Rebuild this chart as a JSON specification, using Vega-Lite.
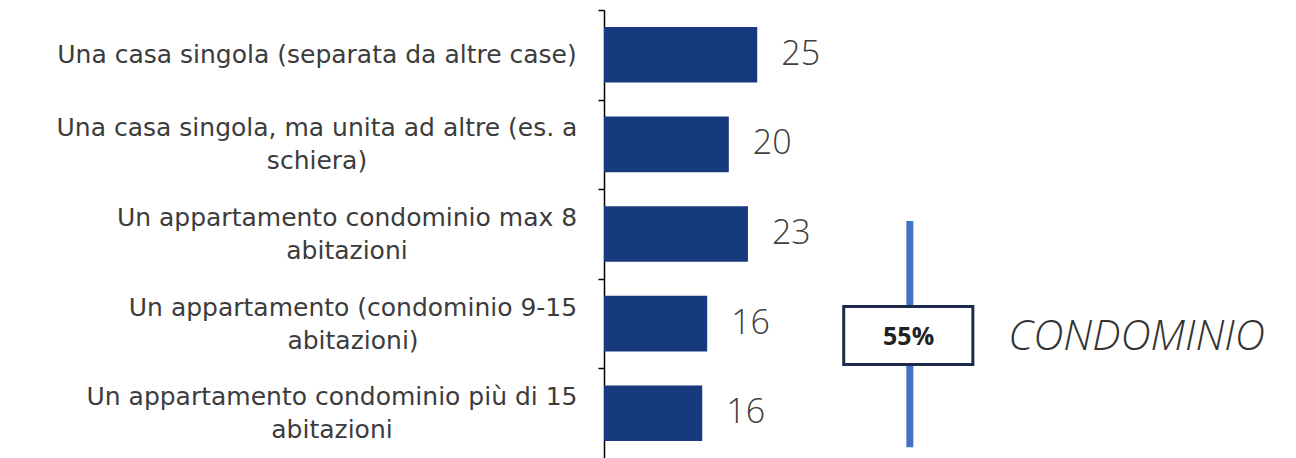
{
  "$schema": "https://vega.github.io/schema/vega-lite/v6.json",
  "width": 692,
  "height": 448,
  "autosize": {"type": "none"},
  "padding": {"left": 604, "top": 10, "right": 0, "bottom": 0},
  "background": "white",
  "config": {"view": {"stroke": null}},
  "layer": [
    {
      "data": {
        "values": [
          {"categoria": "Una casa singola (separata da altre case)", "valore": 24.8, "etichetta": 25},
          {"categoria": "Una casa singola, ma unita ad altre (es. a|schiera)", "valore": 20.2, "etichetta": 20},
          {"categoria": "Un appartamento condominio max 8|abitazioni", "valore": 23.3, "etichetta": 23},
          {"categoria": "Un appartamento (condominio 9-15|abitazioni)", "valore": 16.7, "etichetta": 16},
          {"categoria": "Un appartamento condominio più di 15|abitazioni", "valore": 15.9, "etichetta": 16}
        ]
      },
      "encoding": {
        "y": {
          "field": "categoria",
          "type": "nominal",
          "sort": null,
          "scale": {"paddingInner": 0.38, "paddingOuter": 0.19},
          "axis": {
            "title": null,
            "domainColor": "#000000",
            "domainWidth": 1.5,
            "tickColor": "#000000",
            "tickSize": 6,
            "tickWidth": 1.5,
            "tickOffset": -44.8,
            "labelFont": "DejaVu Sans",
            "labelFontSize": 25,
            "labelColor": "#3c3c3c",
            "labelLimit": 700,
            "labelExpr": "split(datum.label, '|')",
            "labelLineHeight": 33,
            "labelBaseline": "middle",
            "labelAlign": "center",
            "labelPadding": {
              "condition": [
                {"test": "indexof(datum.label, 'es. a') >= 0", "value": 281.5},
                {"test": "indexof(datum.label, 'max 8') >= 0", "value": 251.5},
                {"test": "indexof(datum.label, '9-15') >= 0", "value": 245.5},
                {"test": "indexof(datum.label, 'di 15') >= 0", "value": 266.5}
              ],
              "value": 281.5
            },
            "labelOffset": {"condition": {"test": "indexof(datum.label, '|') >= 0", "value": 28.3}, "value": 44.8}
          }
        },
        "x": {
          "field": "valore",
          "type": "quantitative",
          "scale": {"domain": [0, 112], "nice": false, "zero": true},
          "axis": null
        }
      },
      "layer": [
        {"mark": {"type": "bar", "color": "#163a7d"}},
        {
          "mark": {"type": "text", "align": "left", "baseline": "middle", "dx": 24, "font": "Open Sans", "fontWeight": 300, "fontSize": 34, "color": "#404040"},
          "encoding": {"text": {"field": "etichetta", "type": "quantitative"}}
        }
      ]
    },
    {
      "data": {"values": [{"gruppo": "condominio"}]},
      "mark": {"type": "rule", "color": "#4472c4", "strokeWidth": 7, "yOffset": -13, "y2Offset": 34},
      "encoding": {
        "x": {"datum": 49.5, "type": "quantitative"},
        "y": {"datum": "Un appartamento condominio max 8|abitazioni", "type": "nominal"},
        "y2": {"datum": "Un appartamento condominio più di 15|abitazioni"}
      }
    },
    {
      "data": {"values": [{"gruppo": "condominio"}]},
      "mark": {"type": "bar", "fill": "white", "stroke": "#1c2b4a", "strokeWidth": 3, "height": 58, "yOffset": 12},
      "encoding": {
        "x": {"datum": 38.8, "type": "quantitative"},
        "x2": {"datum": 59.7},
        "y": {"datum": "Un appartamento (condominio 9-15|abitazioni)", "type": "nominal"}
      }
    },
    {
      "data": {"values": [{"testo": "55%"}]},
      "mark": {"type": "text", "align": "center", "baseline": "middle", "dy": 13, "font": "Open Sans", "fontWeight": "bold", "fontSize": 25, "color": "#222222"},
      "encoding": {
        "x": {"datum": 49.3, "type": "quantitative"},
        "y": {"datum": "Un appartamento (condominio 9-15|abitazioni)", "type": "nominal"},
        "text": {"field": "testo", "type": "nominal"}
      }
    },
    {
      "data": {"values": [{"testo": "CONDOMINIO"}]},
      "mark": {"type": "text", "align": "center", "baseline": "middle", "dy": 13, "font": "Open Sans", "fontStyle": "italic", "fontWeight": 300, "fontSize": 42, "color": "#333333"},
      "encoding": {
        "x": {"datum": 86.2, "type": "quantitative"},
        "y": {"datum": "Un appartamento (condominio 9-15|abitazioni)", "type": "nominal"},
        "text": {"field": "testo", "type": "nominal"}
      }
    }
  ]
}
